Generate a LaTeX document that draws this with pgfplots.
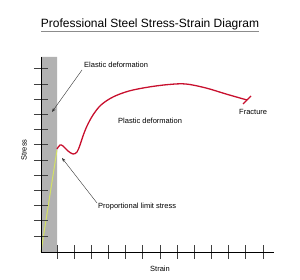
\documentclass[border=0pt]{standalone}
\usepackage{pgfplots}
\pgfplotsset{compat=1.18}
\usepackage{fontspec}
\setmainfont{Liberation Sans}
\usetikzlibrary{arrows.meta}
\definecolor{curvered}{RGB}{200,16,46}
\definecolor{elastic}{RGB}{212,226,100}
\definecolor{band}{RGB}{178,178,178}
\begin{document}
\begin{tikzpicture}
\useasboundingbox (0,0) rectangle (300pt,280pt);
\begin{axis}[
  at={(41pt,28pt)}, anchor=south west,
  scale only axis, width=233pt, height=195pt,
  xmin=0, xmax=233, ymin=0, ymax=195,
  axis x line=bottom, axis y line=left,
  axis line style={-, black, line width=0.7pt},
  xtick={16,33.2,50.3,67.5,84.7,101.8,119,136.2,153.3,170.5,187.7,204.8,222},
  ytick={16,31.2,46.4,61.6,76.8,92,107.2,122.4,137.6,152.8,168,183.2},
  xticklabels={}, yticklabels={},
  tick align=center, major tick length=14pt,
  tick style={black!75, line width=0.7pt},
  axis on top=true,
  clip=false,
  font=\fontsize{7.5}{9}\selectfont,
]
% gray elastic band
\addplot[draw=none, fill=band] coordinates {(0,0) (16,0) (16,195) (0,195)} \closedcycle;
% elastic line
\addplot[elastic, line width=1pt] coordinates {(0,0) (16,102)};
% plastic curve
\addplot[curvered, line width=1.3pt, smooth, tension=0.55] coordinates {
 (16,103) (19,107) (22,106) (27,101) (32,98) (36,100) (39,107) (42,116)
 (46,126) (52,137) (60,147) (72,155) (88,161) (108,165) (128,167.5) (145,168)
 (165,164) (185,158) (206,152)};
% fracture bar
\addplot[curvered, line width=1.3pt] coordinates {(202,148) (210,156)};
% labels
\node[anchor=west, inner sep=0pt] at (axis cs:43,187) {Elastic deformation};
\node[anchor=west, inner sep=0pt] at (axis cs:77,131) {Plastic deformation};
\node[anchor=west, inner sep=0pt] at (axis cs:198,140) {Fracture};
\node[anchor=west, inner sep=0pt] at (axis cs:57,45) {Proportional limit stress};
\node[rotate=90] at (axis cs:-17,102) {Stress};
\node at (axis cs:119,-17) {Strain};
\draw[black!80, line width=0.4pt, -{Stealth[length=4pt,width=3pt]}] (axis cs:41,182) -- (axis cs:11,140);
\draw[black!80, line width=0.4pt, -{Stealth[length=4pt,width=3pt]}] (axis cs:56,49) -- (axis cs:21,94);
% title
\node[font=\fontsize{12}{14}\selectfont] at (axis cs:109,228) {Professional Steel Stress-Strain Diagram};
\draw[black!45, line width=1pt] (axis cs:0,220) -- (axis cs:218,220);
\end{axis}
\end{tikzpicture}
\end{document}
